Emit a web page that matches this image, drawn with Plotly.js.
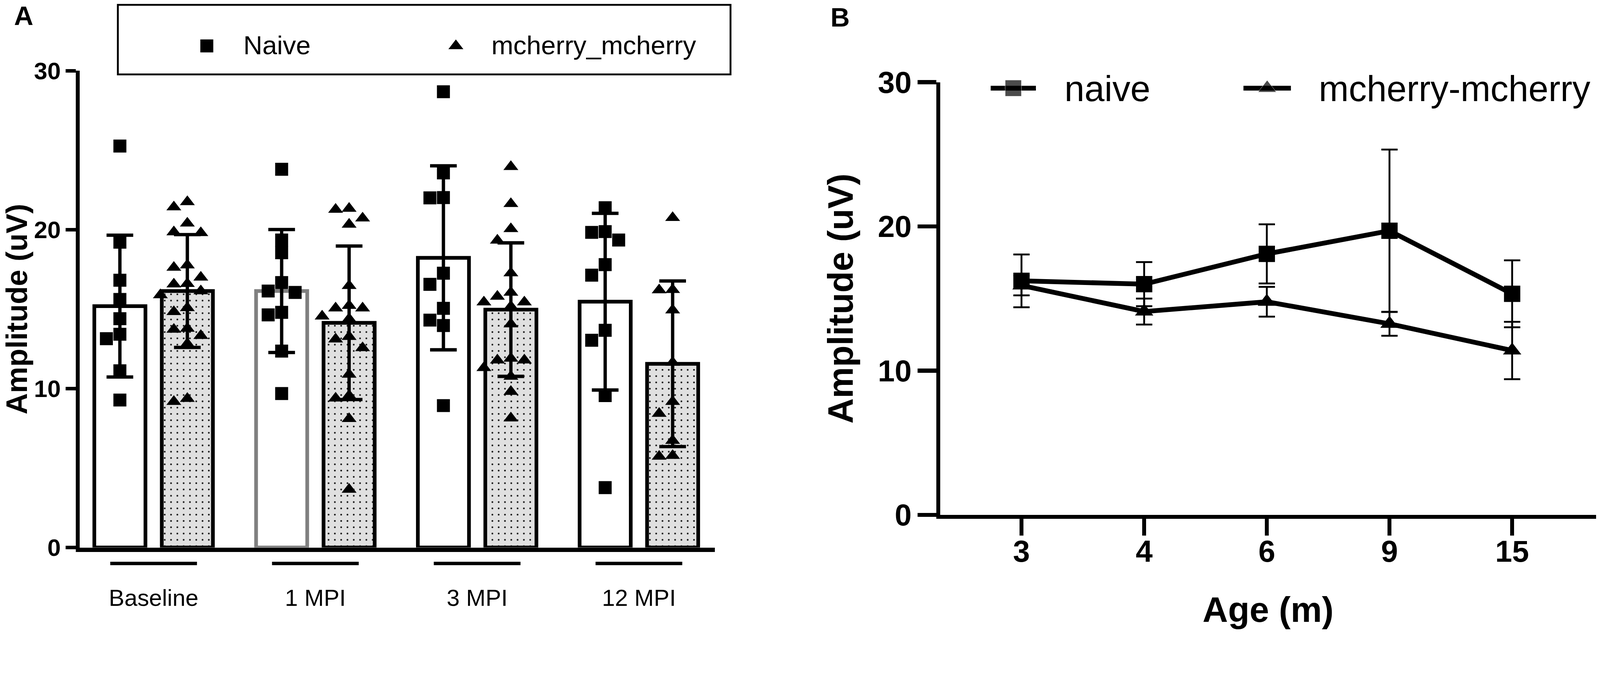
<!DOCTYPE html>
<html>
<head>
<meta charset="utf-8">
<script src="https://cdn.plot.ly/plotly-3.0.1.min.js"></script>
<style>
  html, body { margin: 0; padding: 0; background: #fff; overflow: hidden; }
</style>
</head>
<body>
<div id="chart"></div>
<script>
// ---- data, panel A (bars + individual animals) ----
const groups = ['Baseline', '1 MPI', '3 MPI', '12 MPI'];
const naiveMean = [15.19, 16.14, 18.23, 15.47];
const naiveSD = [4.46, 3.87, 5.79, 5.56];
const mcherryMean = [16.14, 14.14, 14.97, 11.56];
const mcherrySD = [3.55, 4.83, 4.20, 5.21];

const naiveBaseline = [25.26, 19.21, 16.82, 15.61, 14.40, 13.42, 13.14, 11.12, 9.28];
const naive1MPI = [23.80, 19.35, 18.55, 16.67, 16.14, 16.05, 14.80, 14.64, 12.36, 9.69];
const naive3MPI = [28.68, 23.57, 22.02, 22.00, 17.26, 16.56, 15.05, 14.31, 13.97, 8.93];
const naive12MPI = [21.38, 19.88, 19.83, 19.35, 17.80, 17.14, 13.67, 13.04, 9.56, 3.77];

const mcherryBaseline = [21.75, 21.42, 20.40, 19.85, 19.80, 17.77, 17.62, 17.00, 16.60, 16.57,
                         16.14, 15.89, 15.08, 14.83, 13.78, 13.72, 13.33, 12.82, 9.37, 9.18];
const mcherry1MPI = [21.33, 21.27, 20.72, 20.33, 16.47, 15.22, 15.06, 15.06, 14.55, 14.39,
                     13.27, 13.11, 12.56, 10.89, 9.56, 9.39, 8.10, 3.65];
const mcherry3MPI = [23.96, 21.63, 20.05, 19.33, 17.27, 16.05, 15.80, 15.44, 15.44, 15.17,
                     14.06, 11.90, 11.79, 11.79, 11.31, 10.76, 9.81, 8.14];
const mcherry12MPI = [20.75, 16.22, 16.20, 14.94, 11.64, 9.18, 8.43, 6.73, 5.78, 5.73];

const naivePoints = [naiveBaseline, naive1MPI, naive3MPI, naive12MPI];
const mcherryPoints = [mcherryBaseline, mcherry1MPI, mcherry3MPI, mcherry12MPI];

// ---- data, panel B (mean +/- SD by age) ----
const ages = ['3', '4', '6', '9', '15'];
const naiveAgeMean = [16.23, 16.00, 18.10, 19.70, 15.33];
const naiveAgeSD = [1.83, 1.53, 2.05, 5.63, 2.32];
const mcherryAgeMean = [15.91, 14.10, 14.78, 13.25, 11.40];
const mcherryAgeSD = [0.69, 0.90, 1.03, 0.83, 1.99];

// ---- layout, in pixels of the 4317x1724 reference; k rescales to the real viewport ----
const W = 4317, H = 1724;
const k = Math.min(window.innerWidth / W, window.innerHeight / H) || 1;
const s = v => v * k;
const FONT = 'Liberation Sans, Arial, Helvetica, sans-serif';
const px = x => x / W;
const py = y => 1 - y / H;

const A = { left: 215, right: 1929, top: 191, bottom: 1478, xRange: [-0.457, 3.470] };
const B = { left: 2537, right: 4306, top: 222, bottom: 1390, xRange: [-0.662, 4.683] };
const BARGAP = 0.166, BARGROUPGAP = 0.242;
const SQ_A = 35, TRI_A = 35, SQ_B = 44, TRI_B = 43;

// beeswarm: spread overlapping points sideways, largest value first (reference px units)
const pxPerX = (A.right - A.left) / (A.xRange[1] - A.xRange[0]);
const pxPerY = (A.bottom - A.top) / 30;
function swarm(values, center, size) {
    const order = values.map((v, i) => i).sort((a, b) => values[b] - values[a]);
    const placed = [];
    const xs = new Array(values.length);
    const step = size * 0.52;
    for (const i of order) {
        for (let j = 0; j < 40; j++) {
            const off = (j === 0 ? 0 : (j % 2 ? -1 : 1) * Math.ceil(j / 2)) * step;
            const free = placed.every(p =>
                Math.abs(p.off - off) >= size * 0.98 ||
                Math.abs(p.v - values[i]) * pxPerY >= size * 0.98);
            if (free) {
                placed.push({ off: off, v: values[i] });
                xs[i] = center + off / pxPerX;
                break;
            }
        }
    }
    return xs;
}

const groupIdx = groups.map((g, i) => i);
const barOffset = (1 - BARGAP) / 4;

const naiveX = groupIdx.flatMap(i => swarm(naivePoints[i], i - barOffset, SQ_A));
const mcherryX = groupIdx.flatMap(i => swarm(mcherryPoints[i], i + barOffset, SQ_A));

const errA = arr => ({ type: 'data', array: arr, visible: true, color: '#000', thickness: s(9), width: s(36) });
const errB = arr => ({ type: 'data', array: arr, visible: true, color: '#000', thickness: s(5), width: s(22) });

const traces = [
    {
        type: 'bar', x: groupIdx, y: naiveMean, xaxis: 'x', yaxis: 'y',
        error_y: errA(naiveSD),
        marker: { color: '#ffffff', line: { color: ['#000', '#808080', '#000', '#000'], width: s(10) } }
    },
    {
        type: 'bar', x: groupIdx, y: mcherryMean, xaxis: 'x', yaxis: 'y',
        error_y: errA(mcherrySD),
        marker: {
            color: '#e0e0e0',
            pattern: { shape: '.', fgcolor: '#000', bgcolor: '#e0e0e0', size: s(17), solidity: 0.055, fillmode: 'replace' },
            line: { color: '#000', width: s(10) }
        }
    },
    {
        type: 'scatter', mode: 'markers', x: naiveX, y: naivePoints.flat(), xaxis: 'x', yaxis: 'y',
        marker: { symbol: 'square', size: s(SQ_A), color: '#000' }, cliponaxis: false
    },
    {
        type: 'scatter', mode: 'markers', x: mcherryX, y: mcherryPoints.flat(), xaxis: 'x', yaxis: 'y',
        marker: { symbol: 'triangle-up', size: s(TRI_A), color: '#000' }, cliponaxis: false
    },
    {
        type: 'scatter', mode: 'lines+markers', x: ages, y: naiveAgeMean, xaxis: 'x2', yaxis: 'y2',
        error_y: errB(naiveAgeSD),
        line: { color: '#000', width: s(13) },
        marker: { symbol: 'square', size: s(SQ_B), color: '#000' }, cliponaxis: false
    },
    {
        type: 'scatter', mode: 'lines+markers', x: ages, y: mcherryAgeMean, xaxis: 'x2', yaxis: 'y2',
        error_y: errB(mcherryAgeSD),
        line: { color: '#000', width: s(13) },
        marker: { symbol: 'triangle-up', size: s(TRI_B), color: '#000' }, cliponaxis: false
    }
];

// legend keys, drawn on a hidden axis pair that spans the page in reference px
const keyA = { y: 124, naive: 558, mcherry: 1230 };
const keyB = { y: 238, naive: [2673, 2734, 2795], mcherry: [3355, 3419, 3483] };
traces.push(
    { type: 'scatter', mode: 'markers', x: [keyA.naive], y: [keyA.y], xaxis: 'x3', yaxis: 'y3',
      marker: { symbol: 'square', size: s(SQ_A), color: '#000' } },
    { type: 'scatter', mode: 'markers', x: [keyA.mcherry], y: [keyA.y], xaxis: 'x3', yaxis: 'y3',
      marker: { symbol: 'triangle-up', size: s(TRI_A), color: '#000' } },
    { type: 'scatter', mode: 'lines+markers', x: keyB.naive, y: keyB.naive.map(() => keyB.y), xaxis: 'x3', yaxis: 'y3',
      line: { color: '#000', width: s(13) }, marker: { symbol: 'square', size: [0, s(SQ_B), 0], color: '#000' } },
    { type: 'scatter', mode: 'lines+markers', x: keyB.mcherry, y: keyB.mcherry.map(() => keyB.y), xaxis: 'x3', yaxis: 'y3',
      line: { color: '#000', width: s(13) }, marker: { symbol: 'triangle-up', size: [0, s(TRI_B), 0], color: '#000' } }
);

const font = (size, bold) => ({ family: FONT, size: s(size), color: '#000', weight: bold ? 'bold' : 'normal' });

const shapes = [
    { type: 'rect', xref: 'paper', yref: 'paper', x0: px(318), x1: px(1971), y0: py(201), y1: py(13),
      line: { color: '#000', width: s(5) }, fillcolor: 'rgba(0,0,0,0)' }
].concat(groupIdx.map(i => ({
    type: 'line', xref: 'x', yref: 'paper', x0: i - 0.268, x1: i + 0.268, y0: py(1521), y1: py(1521),
    line: { color: '#000', width: s(9) }
})));

const annotations = [
    { text: 'A', x: px(36), y: py(0), yanchor: 'top', font: font(72, true) },
    { text: 'B', x: px(2267), y: py(4), yanchor: 'top', font: font(72, true) },
    { text: 'Naive', x: px(655), y: py(122), xanchor: 'left', font: font(71) },
    { text: 'mcherry_mcherry', x: px(1324), y: py(122), xanchor: 'left', font: font(71) },
    { text: 'naive', x: px(2870), y: py(240), xanchor: 'left', font: font(97) },
    { text: 'mcherry-mcherry', x: px(3556), y: py(240), xanchor: 'left', font: font(97) }
].map(a => Object.assign({ xref: 'paper', yref: 'paper', showarrow: false, yanchor: 'middle' }, a));

const layout = {
    width: s(W), height: s(H),
    margin: { l: 0, r: 0, t: 0, b: 0 },
    paper_bgcolor: '#fff', plot_bgcolor: 'rgba(0,0,0,0)',
    showlegend: false,
    barmode: 'group', bargap: BARGAP, bargroupgap: BARGROUPGAP,
    font: { family: FONT, color: '#000' },
    xaxis: {
        domain: [px(A.left), px(A.right)], range: A.xRange, anchor: 'y',
        tickvals: groupIdx, ticktext: groups,
        // invisible ticks push the group labels below the group underlines
        ticks: 'outside', ticklen: s(70), tickcolor: 'rgba(0,0,0,0)',
        showline: true, linewidth: s(12), linecolor: '#000',
        showgrid: false, zeroline: false, tickfont: font(63)
    },
    yaxis: {
        domain: [py(A.bottom), py(A.top)], range: [0, 30], anchor: 'x',
        tickvals: [0, 10, 20, 30], ticks: 'outside', ticklen: s(27), tickwidth: s(10), tickcolor: '#000',
        showline: true, linewidth: s(11), linecolor: '#000',
        showgrid: false, zeroline: false, tickfont: font(65, true),
        title: { text: 'Amplitude (uV)', standoff: s(14), font: font(80, true) }
    },
    xaxis2: {
        domain: [px(B.left), px(B.right)], type: 'category', categoryorder: 'array', categoryarray: ages,
        range: B.xRange, anchor: 'y2',
        ticks: 'outside', ticklen: s(45), tickwidth: s(11), tickcolor: '#000',
        ticklabelstandoff: Math.round(s(-28)),
        showline: true, linewidth: s(11), linecolor: '#000',
        showgrid: false, zeroline: false, tickfont: font(82, true),
        title: { text: 'Age (m)', standoff: s(85), font: font(95, true) }
    },
    yaxis2: {
        domain: [py(B.bottom), py(B.top)], range: [0, 30], anchor: 'x2',
        tickvals: [0, 10, 20, 30], ticks: 'outside', ticklen: s(50), tickwidth: s(11), tickcolor: '#000',
        showline: true, linewidth: s(11), linecolor: '#000',
        showgrid: false, zeroline: false, tickfont: font(82, true),
        title: { text: 'Amplitude (uV)', standoff: s(40), font: font(95, true) }
    },
    xaxis3: { domain: [0, 1], range: [0, W], anchor: 'y3', visible: false, fixedrange: true },
    yaxis3: { domain: [0, 1], range: [H, 0], anchor: 'x3', visible: false, fixedrange: true },
    shapes: shapes,
    annotations: annotations
};

Plotly.newPlot('chart', traces, layout, { displayModeBar: false, staticPlot: true });
</script>
</body>
</html>
